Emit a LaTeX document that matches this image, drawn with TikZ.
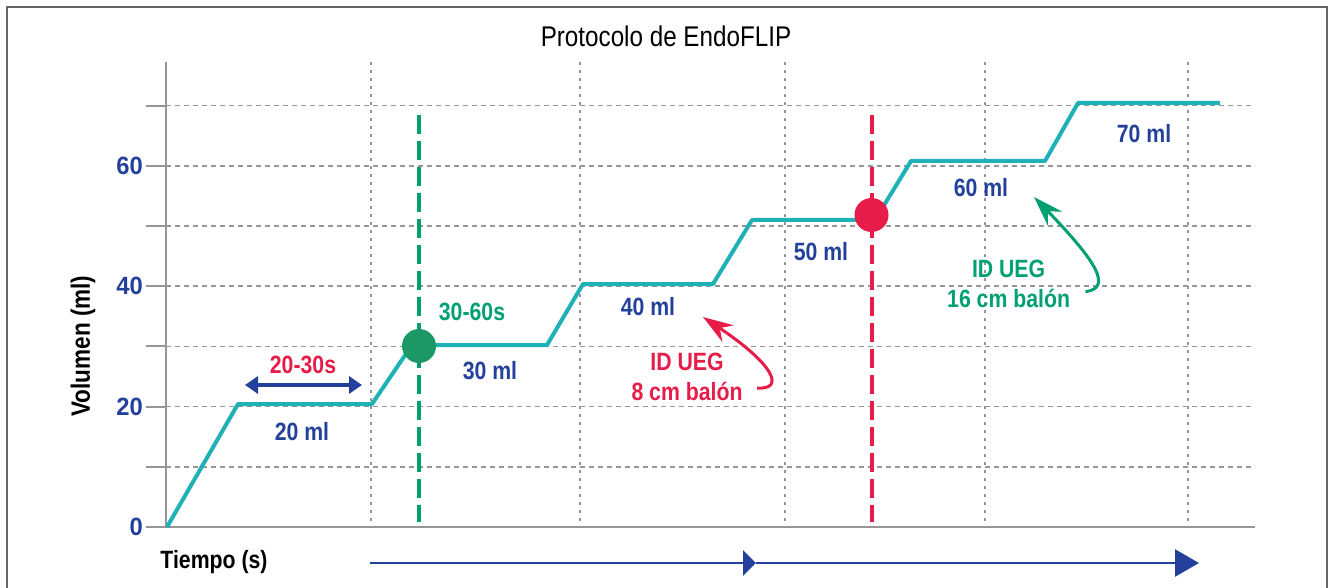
\documentclass[tikz,border=0pt]{standalone}
\usepackage{fontspec}
\setmainfont[FakeStretch=0.85]{Liberation Sans}
\newfontfamily\tickfont[FakeStretch=0.95]{Liberation Sans}
\usepackage{tikz}
\usetikzlibrary{arrows.meta}

\definecolor{curvecol}{RGB}{30,178,182}
\definecolor{mlblue}{RGB}{35,65,155}
\definecolor{uegred}{RGB}{232,28,72}
\definecolor{ueggreen}{RGB}{0,160,115}
\definecolor{dotgreen}{RGB}{28,152,102}
\definecolor{gridgray}{RGB}{150,150,150}

\tikzstyle{hgrid} = [draw=gridgray, line width=1.5pt, dash pattern=on 5pt off 4pt]
\tikzstyle{vgrid} = [draw=gridgray, line width=1.5pt, dash pattern=on 3pt off 5pt]
\tikzstyle{axisline} = [draw=gridgray, line width=2pt]
\tikzstyle{volcurve} = [draw=curvecol, line width=4pt, line join=round]
\tikzstyle{markline} = [line width=4pt, dash pattern=on 19pt off 7pt]
\tikzstyle{valdot} = [circle, minimum size=34pt, inner sep=0pt]
\tikzstyle{lbl} = [font=\fontsize{25}{30}\selectfont\bfseries, text=mlblue, align=center, inner sep=0pt]
\tikzstyle{ticklbl} = [font=\tickfont\fontsize{25}{28}\selectfont\bfseries, text=mlblue, anchor=east, inner sep=0pt]
\tikzstyle{axtitle} = [font=\fontsize{25}{30}\selectfont\bfseries, inner sep=0pt]
\tikzstyle{note} = [line width=3pt, -{Stealth[length=30pt,width=20pt,inset=10pt]}]

\begin{document}
\begin{tikzpicture}[x=1pt, y=-1pt]
	\useasboundingbox (0,0) rectangle (1331,588);
	% frame and title
	\draw[black!60, line width=1.5pt] (7,600) -- (7,7) -- (1327,7) -- (1327,600);
	\node[font=\fontsize{28.5}{32}\selectfont] (title) at (666,36) {Protocolo de EndoFLIP};
	% grid
	\foreach \v in {10,20,...,70} {
		\draw[axisline] (146,{527-6.02*\v}) -- (166,{527-6.02*\v});
		\draw[hgrid] (166,{527-6.02*\v}) -- (1255,{527-6.02*\v});
	}
	\foreach \x in {371,580,785,985,1188}
		\draw[vgrid] (\x,62) -- (\x,527);
	\draw[axisline] (166,62) -- (166,527);
	\draw[axisline] (146,527) -- (1255,527);
	\foreach \v in {0,20,40,60}
		\node[ticklbl] (t\v) at (143,{527-6.02*\v}) {\v};
	\node[axtitle, font=\fontsize{26.5}{30}\selectfont\bfseries, rotate=90] (ylab) at (83,346) {Volumen (ml)};
	\node[axtitle] (xlab) at (214,562) {Tiempo (s)};
	% measurement lines
	\coordinate (gtop) at (419,115);
	\coordinate (gbot) at (419,522);
	\coordinate (rtop) at (871.5,115);
	\coordinate (rbot) at (871.5,522);
	\draw[markline, ueggreen] (gtop) -- (gbot);
	\draw[markline, uegred] (rtop) -- (rbot);
	% volume steps
	\draw[volcurve] (167,527) -- (238,404) -- (372,404) -- (412,345) -- (547,345)
		-- (583,284) -- (713,284) -- (752,220) -- (875,220) -- (911,161)
		-- (1045,161) -- (1078,103) -- (1220,103);
	\node[valdot, fill=dotgreen] (gdot) at (419,346) {};
	\node[valdot, fill=uegred] (rdot) at (871.5,215) {};
	% labels
	\node[lbl, text=uegred] (dur1) at (303,365) {20-30s};
	\node[lbl] (ml20) at (302,432) {20 ml};
	\node[lbl, text=ueggreen] (dur2) at (472,312) {30-60s};
	\node[lbl] (ml30) at (490,371) {30 ml};
	\node[lbl] (ml40) at (648,307) {40 ml};
	\node[lbl] (ml50) at (821,252) {50 ml};
	\node[lbl] (ml60) at (981,188) {60 ml};
	\node[lbl] (ml70) at (1144,134) {70 ml};
	\node[lbl, text=uegred] (ueg8) at (687,377) {ID UEG\\8 cm balón};
	\node[lbl, text=ueggreen] (ueg16) at (1008.6,284) {ID UEG\\16 cm balón};
	% arrows
	\coordinate (d1a) at (245,385);
	\coordinate (d1b) at (362,385);
	\draw[mlblue, line width=4pt, {Triangle[length=13pt,width=17pt]}-{Triangle[length=13pt,width=17pt]}] (d1a) -- (d1b);
	\coordinate (ts) at (370,563);
	\coordinate (tm) at (756,563);
	\coordinate (te) at (1199,563);
	\draw[mlblue, line width=2.5pt, -{Triangle[length=13pt,width=25pt]}] (ts) -- (tm);
	\draw[mlblue, line width=2.5pt, -{Triangle[length=24pt,width=27pt]}] (tm) -- (te);
	\coordinate (r8) at (757,388);
	\coordinate (g16) at (1085.5,291.7);
	\draw[note, uegred] (r8) .. controls (785,390) and (775,365) .. (703,317);
	\draw[note, ueggreen] (g16) .. controls (1112,288) and (1098,263) .. (1034,197);
\end{tikzpicture}
\end{document}
